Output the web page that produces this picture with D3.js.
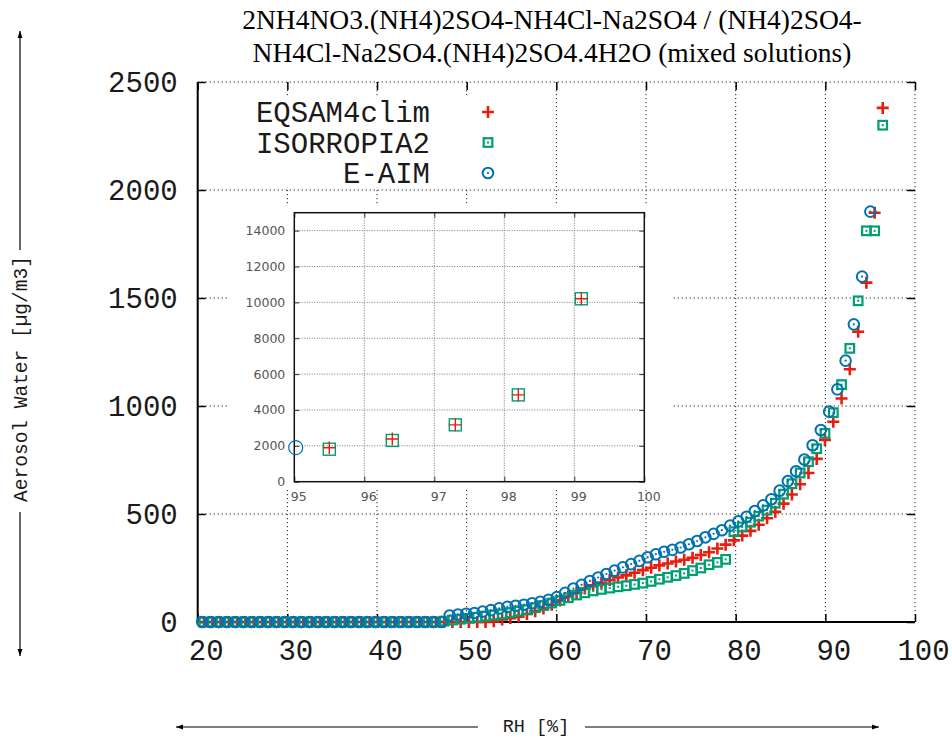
<!DOCTYPE html>
<html><head><meta charset="utf-8">
<script src="https://cdn.jsdelivr.net/npm/d3@7"></script>
<style>body{margin:0;background:#fff}svg{display:block}</style>
</head><body>
<svg id="c" width="952" height="738"></svg>
<script>
// ---- data ----
const titleLines = ["2NH4NO3.(NH4)2SO4-NH4Cl-Na2SO4 / (NH4)2SO4-", "NH4Cl-Na2SO4.(NH4)2SO4.4H2O (mixed solutions)"];
const seriesNames = ["EQSAM4clim", "ISORROPIA2", "E-AIM"];
const xTicks = [20, 30, 40, 50, 60, 70, 80, 90, 100];
const yTicks = [0, 500, 1000, 1500, 2000, 2500];
const insetXTicks = [95, 96, 97, 98, 99, 100];
const insetYTicks = [0, 2000, 4000, 6000, 8000, 10000, 12000, 14000];

// RH grid of EQSAM4clim and ISORROPIA2
const rhA = [20.70, 21.62, 22.55, 23.47, 24.39, 25.32, 26.24, 27.16, 28.09, 29.01,
  29.94, 30.86, 31.78, 32.71, 33.63, 34.55, 35.48, 36.40, 37.32, 38.25,
  39.17, 40.09, 41.02, 41.94, 42.86, 43.79, 44.71, 45.63, 46.56, 47.48,
  48.41, 49.33, 50.25, 51.18, 52.10, 53.02, 53.95, 54.87, 55.79, 56.72,
  57.64, 58.56, 59.49, 60.41, 61.33, 62.26, 63.18, 64.10, 65.03, 65.95,
  66.88, 67.80, 68.72, 69.65, 70.57, 71.49, 72.42, 73.34, 74.26, 75.19,
  76.11, 77.03, 77.96, 78.88, 79.80, 80.73, 81.65, 82.57, 83.50, 84.42,
  85.34, 86.27, 87.19, 88.12, 89.04, 89.96, 90.89, 91.81, 92.73, 93.66,
  94.58, 95.50, 96.40, 97.30, 98.20, 99.10];
const eqsam = [0,0,0,0,0,0,0,0,0,0, 0,0,0,0,0,0,0,0,0,0, 0,0,0,0,0,0,0,0,0,0,
  0,0,0,0,0, 3,12,18,25,37, 50,63,80,100,118, 135,155,170,182,194,
  206,216,228,240,251, 262,271,280,288,297, 310,323,340,358,378,
  400,422,450,480,510, 548,590,638,690,755, 843,927,1035,1170,1344,
  1571,1895,2380,3170,4840,10200];
const isorropia = [0,0,0,0,0,0,0,0,0,0, 0,0,0,0,0,0,0,0,0,0, 0,0,0,0,0,0,0,0,0,
  4,9,13,17,22,27,32,37,43,50,57,
  66,76,88,100,112, 125,135,144,151,157,
  163,168,174,180,188, 198,207,215,225,238,
  250,265,276,290,418, 440,462,490,518,550,
  592,640,690,742,802, 873,969,1099,1267,1487,
  1811,1811,2300,3170,4840,10200];
// RH grid of E-AIM
const rhE = [20.50, 21.42, 22.34, 23.26, 24.18, 25.10, 26.02, 26.94, 27.86, 28.78,
  29.70, 30.62, 31.54, 32.46, 33.38, 34.30, 35.22, 36.14, 37.06, 37.98,
  38.90, 39.82, 40.74, 41.66, 42.58, 43.50, 44.42, 45.34, 46.26, 47.18,
  48.10, 49.02, 49.94, 50.86, 51.78, 52.70, 53.62, 54.54, 55.46, 56.38,
  57.30, 58.22, 59.14, 60.06, 60.98, 61.90, 62.82, 63.74, 64.66, 65.58,
  66.50, 67.42, 68.34, 69.26, 70.18, 71.10, 72.02, 72.94, 73.86, 74.78,
  75.70, 76.62, 77.54, 78.46, 79.38, 80.30, 81.22, 82.14, 83.06, 83.98,
  84.90, 85.82, 86.74, 87.66, 88.58, 89.50, 90.42, 91.34, 92.26, 93.18,
  94.10, 95.02];
const eaim = [0,0,0,0,0,0,0,0,0,0, 0,0,0,0,0,0,0,0,0,0, 0,0,0,0,0,0,0,0,0,0,
  30,35,38,42,48, 55,63,70,75,80,
  87,94,103,115,135, 155,172,190,206,222,
  238,253,268,283,300, 314,325,334,345,360,
  375,392,408,425,446, 466,487,514,540,568,
  608,652,698,752,818, 889,974,1077,1210,1378,
  1599,1900];

// ---- drawing ----
const RED = "#e51e10", GREEN = "#009e73", BLUE = "#0072b2";
const MONO = "'Liberation Mono', 'DejaVu Sans Mono', monospace";
const TXT = "#1a1a1a";
const svg = d3.select("#c");

const X0 = 197.7, X1 = 915, Y0 = 622, Y1 = 82;
const x = d3.scaleLinear().domain([20, 100]).range([X0, X1]);
const y = d3.scaleLinear().domain([0, 2500]).range([Y0, Y1]);

const A = rhA.map((r, i) => ({x: r, e: eqsam[i], s: isorropia[i]}));
const E = rhE.map((r, i) => ({x: r, v: eaim[i]}));

// title
svg.append("g").selectAll("text").data(titleLines).join("text")
  .attr("x", 552).attr("y", (d, i) => 29 + i * 33)
  .attr("text-anchor", "middle")
  .style("font-family", "'Liberation Serif', 'Times New Roman', serif")
  .style("font-size", "27.5px").text(d => d);

// grid
const grid = svg.append("g").attr("stroke", "#222").attr("stroke-width", 1)
  .attr("stroke-dasharray", "1.2,2.8");
grid.selectAll(".gx").data(xTicks).join("line")
  .attr("x1", d => x(d)).attr("x2", d => x(d)).attr("y1", Y1).attr("y2", Y0);
grid.selectAll(".gy").data(yTicks).join("line")
  .attr("y1", d => y(d)).attr("y2", d => y(d)).attr("x1", X0).attr("x2", X1);

// axes via d3 axis
function styleAxis(g) {
  g.select(".domain").remove();
  g.selectAll(".tick line").attr("stroke", "#000").attr("stroke-width", 1.5);
}
const axB = svg.append("g").attr("transform", `translate(0,${Y0})`)
  .call(d3.axisBottom(x).tickValues(xTicks).tickSize(-8).tickPadding(17).tickFormat(d3.format("d")));
styleAxis(axB);
axB.selectAll(".tick text").attr("dx", 8).style("font-family", MONO).style("font-size", "29px").attr("fill", TXT);
const axT = svg.append("g").attr("transform", `translate(0,${Y1})`)
  .call(d3.axisTop(x).tickValues(xTicks).tickSize(-8).tickFormat(""));
styleAxis(axT);
const axL = svg.append("g").attr("transform", `translate(${X0},0)`)
  .call(d3.axisLeft(y).tickValues(yTicks).tickSize(-8).tickPadding(20).tickFormat(d3.format("d")));
styleAxis(axL);
axL.selectAll(".tick text").style("font-family", MONO).style("font-size", "29px").attr("fill", TXT);
const axR = svg.append("g").attr("transform", `translate(${X1},0)`)
  .call(d3.axisRight(y).tickValues(yTicks).tickSize(-8).tickFormat(""));
styleAxis(axR);
svg.append("line").attr("x1", X0).attr("x2", X0).attr("y1", Y1).attr("y2", Y0).attr("stroke", "#000").attr("stroke-width", 2);
svg.append("line").attr("x1", X0).attr("x2", X1).attr("y1", Y0).attr("y2", Y0).attr("stroke", "#000").attr("stroke-width", 2);

// markers
function cross(g, s, w) {
  g.append("path").attr("d", `M${-s},0H${s}M0,${-s}V${s}`).attr("stroke", RED).attr("stroke-width", w).attr("fill", "none");
}
function square(g, s, w, dot) {
  g.append("rect").attr("x", -s).attr("y", -s).attr("width", 2 * s).attr("height", 2 * s)
    .attr("stroke", GREEN).attr("stroke-width", w).attr("fill", "none");
  if (dot) g.append("rect").attr("x", -1).attr("y", -1).attr("width", 2).attr("height", 2).attr("fill", GREEN);
}
function circ(g, r, w, dot) {
  g.append("circle").attr("r", r).attr("stroke", BLUE).attr("stroke-width", w).attr("fill", "none");
  if (dot) g.append("circle").attr("r", 1.1).attr("fill", BLUE);
}

const inMain = v => v <= 2500;
svg.append("g").selectAll("g").data(A.filter(d => inMain(d.e))).join("g")
  .attr("transform", d => `translate(${x(d.x)},${y(d.e)})`).each(function () { cross(d3.select(this), 6, 2.6); });
svg.append("g").selectAll("g").data(A.filter(d => inMain(d.s))).join("g")
  .attr("transform", d => `translate(${x(d.x)},${y(d.s)})`).each(function () { square(d3.select(this), 4.3, 2.2, true); });
svg.append("g").selectAll("g").data(E.filter(d => inMain(d.v))).join("g")
  .attr("transform", d => `translate(${x(d.x)},${y(d.v)})`).each(function () { circ(d3.select(this), 5.3, 2, true); });

// legend
svg.append("rect").attr("x", 232).attr("y", 97).attr("width", 272).attr("height", 90).attr("fill", "#fff");
const lg = svg.append("g").selectAll("g").data(seriesNames).join("g")
  .attr("transform", (d, i) => `translate(0,${112 + i * 30.5})`);
lg.append("text").attr("x", 430).attr("dy", "0.35em").attr("text-anchor", "end")
  .style("font-family", MONO).style("font-size", "29px").attr("fill", TXT).text(d => d);
lg.each(function (d, i) {
  const g = d3.select(this).append("g").attr("transform", "translate(488,0)");
  if (i === 0) cross(g, 6, 2.6); else if (i === 1) square(g, 4.3, 2.2, true); else circ(g, 5.3, 2, true);
});

// ---- inset ----
const IX0 = 294.3, IX1 = 644.3, IY0 = 481.7, IY1 = 212.7;
const xi = d3.scaleLinear().domain([95, 100]).range([IX0, IX1]);
const yi = d3.scaleLinear().domain([0, 15000]).range([IY0, IY1]);
svg.append("rect").attr("x", 229).attr("y", 205).attr("width", 444).attr("height", 285).attr("fill", "#fff");
const ig = svg.append("g").attr("stroke", "#777").attr("stroke-width", 1).attr("stroke-dasharray", "1,1.5");
ig.selectAll(".a").data(insetXTicks.slice(1, -1)).join("line")
  .attr("x1", d => xi(d)).attr("x2", d => xi(d)).attr("y1", IY1).attr("y2", IY0);
ig.selectAll(".b").data(insetYTicks.slice(1)).join("line")
  .attr("y1", d => yi(d)).attr("y2", d => yi(d)).attr("x1", IX0).attr("x2", IX1);
const ITF = "'DejaVu Sans', sans-serif";
function styleInset(g) {
  g.select(".domain").remove();
  g.selectAll(".tick line").attr("stroke", "#333").attr("stroke-width", 1);
  g.selectAll(".tick text").style("font-family", ITF).style("font-size", "12.5px").attr("fill", "#555");
}
const iB = svg.append("g").attr("transform", `translate(0,${IY0})`)
  .call(d3.axisBottom(xi).tickValues(insetXTicks).tickSize(-5).tickPadding(10).tickFormat(d3.format("d")));
styleInset(iB); iB.selectAll(".tick text").attr("dx", 4);
const iT = svg.append("g").attr("transform", `translate(0,${IY1})`)
  .call(d3.axisTop(xi).tickValues(insetXTicks).tickSize(-5).tickFormat(""));
styleInset(iT);
const iL = svg.append("g").attr("transform", `translate(${IX0},0)`)
  .call(d3.axisLeft(yi).tickValues(insetYTicks).tickSize(-5).tickPadding(9).tickFormat(d3.format("d")));
styleInset(iL);
const iR = svg.append("g").attr("transform", `translate(${IX1},0)`)
  .call(d3.axisRight(yi).tickValues(insetYTicks).tickSize(-5).tickFormat(""));
styleInset(iR);
svg.append("rect").attr("x", IX0).attr("y", IY1).attr("width", IX1 - IX0).attr("height", IY0 - IY1)
  .attr("fill", "none").attr("stroke", "#111").attr("stroke-width", 1.5);

const inIn = d => d.x >= 95 && d.x <= 100;
svg.append("g").selectAll("g").data(A.filter(inIn)).join("g")
  .attr("transform", d => `translate(${xi(d.x)},${yi(d.s)})`).each(function () { square(d3.select(this), 6, 1.4, false); });
svg.append("g").selectAll("g").data(A.filter(inIn)).join("g")
  .attr("transform", d => `translate(${xi(d.x)},${yi(d.e)})`).each(function () { cross(d3.select(this), 6.5, 1.4); });
svg.append("g").selectAll("g").data(E.filter(inIn)).join("g")
  .attr("transform", d => `translate(${xi(d.x)},${yi(d.v)})`).each(function () { circ(d3.select(this), 7, 1.2, false); });

// ---- axis titles with arrows ----
const defs = svg.append("defs");
defs.append("marker").attr("id", "ah").attr("viewBox", "0 0 10 10").attr("refX", 10).attr("refY", 5)
  .attr("markerWidth", 7).attr("markerHeight", 7).attr("markerUnits", "userSpaceOnUse").attr("orient", "auto")
  .append("path").attr("d", "M0,1.5L10,5L0,8.5z").attr("fill", "#000");
const LY = 727;
const al = svg.append("g").attr("stroke", "#000").attr("stroke-width", 1.2);
al.append("line").attr("x1", 20).attr("y1", 250).attr("x2", 20).attr("y2", 31).attr("marker-end", "url(#ah)");
al.append("line").attr("x1", 20).attr("y1", 512).attr("x2", 20).attr("y2", 656).attr("marker-end", "url(#ah)");
al.append("line").attr("x1", 478).attr("y1", LY).attr("x2", 176).attr("y2", LY).attr("marker-end", "url(#ah)");
al.append("line").attr("x1", 585).attr("y1", LY).attr("x2", 879).attr("y2", LY).attr("marker-end", "url(#ah)");
svg.append("text").attr("transform", "translate(20,379) rotate(-90)").attr("text-anchor", "middle")
  .attr("dy", "0.35em").style("font-family", MONO).style("font-size", "19.5px").attr("fill", TXT)
  .text("Aerosol Water [µg/m3]");
svg.append("text").attr("x", 536).attr("y", LY + 5).attr("text-anchor", "middle")
  .style("font-family", MONO).style("font-size", "18.5px").attr("fill", TXT).text("RH [%]");
</script>
</body></html>
